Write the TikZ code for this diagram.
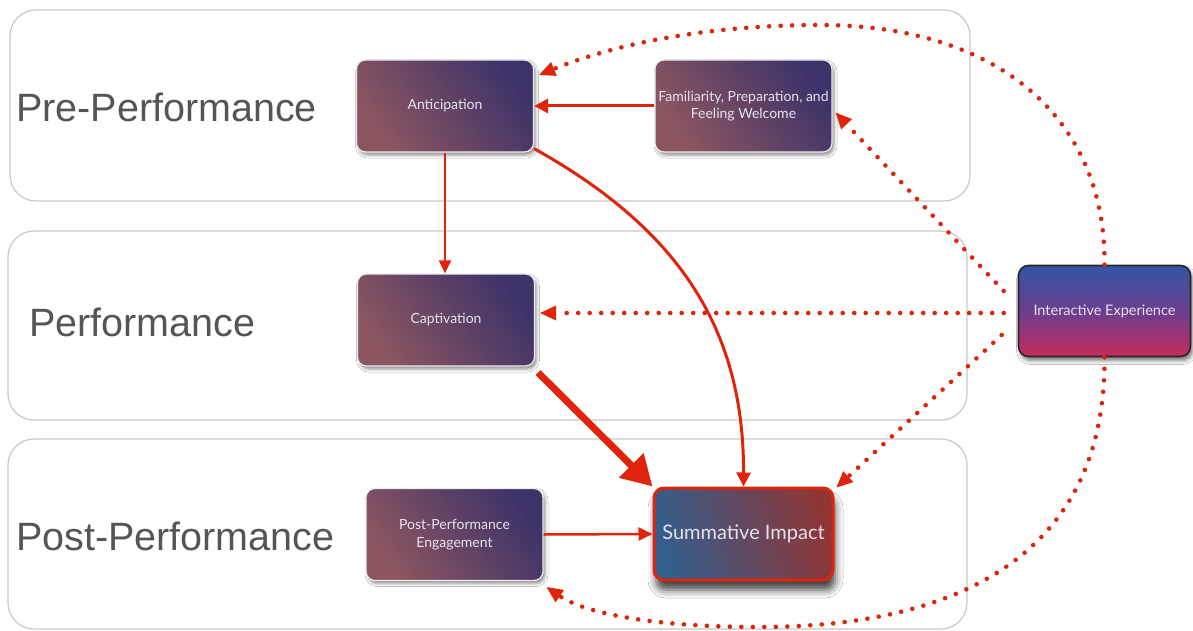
\documentclass[tikz,border=0pt]{standalone}
\usepackage{fontspec}
\setmainfont{Liberation Sans}
\newfontfamily\boxfont{Lato}
\usetikzlibrary{arrows.meta,shadows.blur,calc}

\definecolor{lanegray}{HTML}{C9C9C9}
\definecolor{labelgray}{HTML}{555555}
\definecolor{flowred}{HTML}{E0240C}
\definecolor{warmend}{HTML}{8C5660}
\definecolor{coolend}{HTML}{3D3369}
\definecolor{sumblue}{HTML}{345E8C}
\definecolor{sumred}{HTML}{8E3636}
\definecolor{ieblue}{HTML}{3455A5}
\definecolor{iemid}{HTML}{6A3F8E}
\definecolor{iered}{HTML}{C82A5C}
\definecolor{boxtext}{HTML}{E8E2EE}

\begin{document}
\begin{tikzpicture}[x=1pt,y=-1pt,
  lane/.style={draw=lanegray, line width=1.2pt, rounded corners=26pt},
  lanelabel/.style={anchor=west, text=labelgray, inner sep=0pt,
    font=\fontsize{39.5}{44}\selectfont},
  stage/.style={rounded corners=9pt, draw=white!85!gray, line width=1.2pt,
    minimum width=177pt, minimum height=92pt, align=center, inner sep=2pt,
    text=boxtext, font=\boxfont\fontsize{14}{17.5}\selectfont,
    top color=warmend, bottom color=coolend, shading angle=125,
    blur shadow={shadow xshift=2pt, shadow yshift=-3pt,
      shadow blur radius=3pt, shadow opacity=45}},
  impact/.style={rounded corners=10pt, draw=flowred, line width=3pt,
    minimum width=179pt, minimum height=92pt, align=center,
    text=boxtext, font=\boxfont\fontsize{20}{24}\selectfont,
    left color=sumblue, right color=sumred, shading angle=105,
    blur shadow={shadow xshift=2pt, shadow yshift=-10pt,
      shadow blur radius=8pt, shadow opacity=75}},
  source/.style={rounded corners=10pt, draw=black!85, line width=1.6pt,
    minimum width=172pt, minimum height=91pt, align=center,
    text=boxtext, font=\boxfont\fontsize{14.5}{18}\selectfont,
    top color=ieblue, bottom color=iered, middle color=iemid,
    blur shadow={shadow xshift=2pt, shadow yshift=-4pt,
      shadow blur radius=4pt, shadow opacity=55}},
  flow/.style={draw=flowred, -{Triangle[length=14pt,width=14pt]}},
  dotflow/.style={draw=flowred, line width=4.6pt, line cap=round,
    dash pattern=on 0pt off 11.5pt,
    -{Triangle[length=16pt,width=15pt,line width=0pt]}}
]
\useasboundingbox (0,0) rectangle (1193,631);
\fill[white] (0,0) rectangle (1193,631);

% swimlanes
\draw[lane] (10,10) rectangle (970,201);
\draw[lane] (8,231) rectangle (967,420);
\draw[lane] (8,439) rectangle (967,629);

\node[lanelabel] (lpre)  at (16,107) {Pre-Performance};
\node[lanelabel] (lperf) at (29,322) {Performance};
\node[lanelabel] (lpost) at (16,536) {Post-Performance};

% stages
\node[stage] (ant) at (445,106) {Anticipation};
\node[stage] (fam) at (743.5,106) {Familiarity, Preparation, and\\Feeling Welcome};
\node[stage] (cap) at (446,320) {Captivation};
\node[stage] (ppe) at (454.5,534.5) {Post-Performance\\Engagement};
\node[impact] (sum) at (743.5,534) {Summative Impact};
\node[source] (ie) at (1104.5,311) {Interactive Experience};

% solid influences
\draw[flow, line width=3pt] (fam.west) -- (ant.east);
\draw[flow, line width=2.2pt, -{Triangle[length=13pt,width=12pt]}]
  (ant.south) -- (ant.south |- cap.north);
\draw[flow, line width=3pt]
  ($(ant.south east)+(0,-4)$) .. controls (680,230) and (744,330) .. (sum.north);
\draw[flow, line width=7pt, -{Triangle[length=30pt,width=33pt]}]
  ($(cap.south east)+(3,6)$) -- (sum.north west);
\draw[flow, line width=2.5pt, -{Triangle[length=14pt,width=13pt]}]
  (ppe.east) -- (sum.west);

% dotted influences of the interactive experience
\coordinate (topcrest) at (820,25);
\coordinate (lowcrest) at (760,627);
\draw[dotflow] (ie.north) .. controls (1106,120) and (1000,25) .. (topcrest)
  .. controls (690,25) and (600,50) .. ($(ant.east)+(5,-31)$);
\draw[dotflow] ($(ie.west)+(-14,-20)$) -- ($(fam.south east)+(3,-40)$);
\draw[dotflow] ($(ie.west)+(-14,2)$) -- ($(cap.east)+(5,-7)$);
\draw[dotflow] ($(ie.west)+(-16,24)$) -- ($(sum.north east)+(2,1)$);
\draw[dotflow] (ie.south) .. controls (1106,560) and (950,627) .. (lowcrest)
  .. controls (640,627) and (580,610) .. ($(ppe.south east)+(3,6)$);
\end{tikzpicture}
\end{document}
